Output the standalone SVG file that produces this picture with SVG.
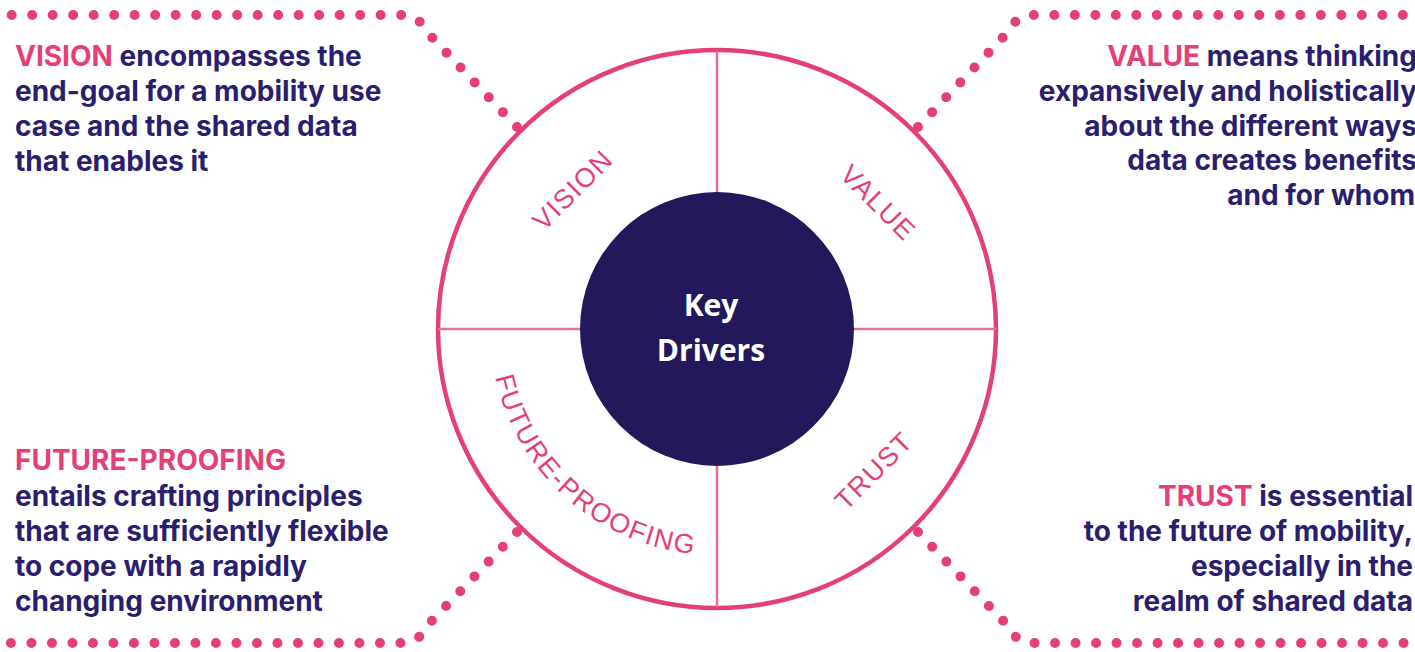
<svg xmlns="http://www.w3.org/2000/svg" width="1415" height="652" viewBox="0 0 1415 652">
<style>
.body{font-family:Inter,"Liberation Sans",sans-serif;font-weight:700;font-size:28px;fill:#2b1e6e}
.pk{fill:#e53f78}
.ring{font-family:"Liberation Sans",Arial,sans-serif;font-size:27px;fill:#e53f78;letter-spacing:1.5px}
.dots{fill:none;stroke:#e53f78;stroke-width:10;stroke-linecap:round;stroke-dasharray:0 20.5}
.div{stroke:#ec6e98;stroke-width:2.5}
</style>
<rect width="1415" height="652" fill="#ffffff"/>
<g id="connectors">
  <path class="dots" d="M517 127 L425 30 Q418 15 405 15 H10"/>
  <path class="dots" d="M918 127 L1010 30 Q1017 15 1030 15 H1425"/>
  <path class="dots" d="M517 532 L425 628 Q418 643 405 643 H10"/>
  <path class="dots" d="M918 532 L1010 628 Q1017 643 1030 643 H1425"/>
</g>
<g id="wheel">
  <circle cx="717" cy="329" r="279" fill="#ffffff" stroke="#e53f78" stroke-width="4.5"/>
  <line class="div" x1="717" y1="51" x2="717" y2="607"/>
  <line class="div" x1="438" y1="329" x2="996" y2="329"/>
</g>
<g id="ring-labels">
  <text class="ring" text-anchor="middle" dominant-baseline="central" transform="translate(573 190) rotate(-45)">VISION</text>
  <text class="ring" text-anchor="middle" dominant-baseline="central" transform="translate(878 203) rotate(45)">VALUE</text>
  <text class="ring" text-anchor="middle" dominant-baseline="central" transform="translate(874 471) rotate(-45)">TRUST</text>
  <path id="fpArc" d="M492 358 A226 226 0 0 0 714 555" fill="none"/>
  <text class="ring"><textPath href="#fpArc" startOffset="50%" text-anchor="middle">FUTURE-PROOFING</textPath></text>
</g>
<g id="key-drivers">
  <circle cx="717" cy="329" r="137" fill="#22185a"/>
  <text x="711" y="316" text-anchor="middle" font-family="'Open Sans','Liberation Sans',sans-serif" font-weight="700" font-size="30" fill="#ffffff">Key</text>
  <text x="711" y="361" text-anchor="middle" font-family="'Open Sans','Liberation Sans',sans-serif" font-weight="700" font-size="30" fill="#ffffff">Drivers</text>
</g>
<g id="vision-text" class="body">
  <text x="15" y="66"><tspan class="pk">VISION</tspan> encompasses the</text>
  <text x="15" y="101">end-goal for a mobility use</text>
  <text x="15" y="136">case and the shared data</text>
  <text x="15" y="171">that enables it</text>
</g>
<g id="value-text" class="body" text-anchor="end">
  <text x="1417" y="66"><tspan class="pk">VALUE</tspan> means thinking</text>
  <text x="1417" y="101">expansively and holistically</text>
  <text x="1417" y="136">about the different ways</text>
  <text x="1417" y="170">data creates benefits</text>
  <text x="1415" y="205">and for whom</text>
</g>
<g id="future-text" class="body">
  <text x="15" y="470" class="pk">FUTURE-PROOFING</text>
  <text x="15" y="506">entails crafting principles</text>
  <text x="15" y="541">that are sufficiently flexible</text>
  <text x="15" y="576">to cope with a rapidly</text>
  <text x="15" y="611">changing environment</text>
</g>
<g id="trust-text" class="body" text-anchor="end">
  <text x="1413" y="506"><tspan class="pk">TRUST</tspan> is essential</text>
  <text x="1413" y="541">to the future of mobility,</text>
  <text x="1413" y="576">especially in the</text>
  <text x="1413" y="611">realm of shared data</text>
</g>
</svg>
